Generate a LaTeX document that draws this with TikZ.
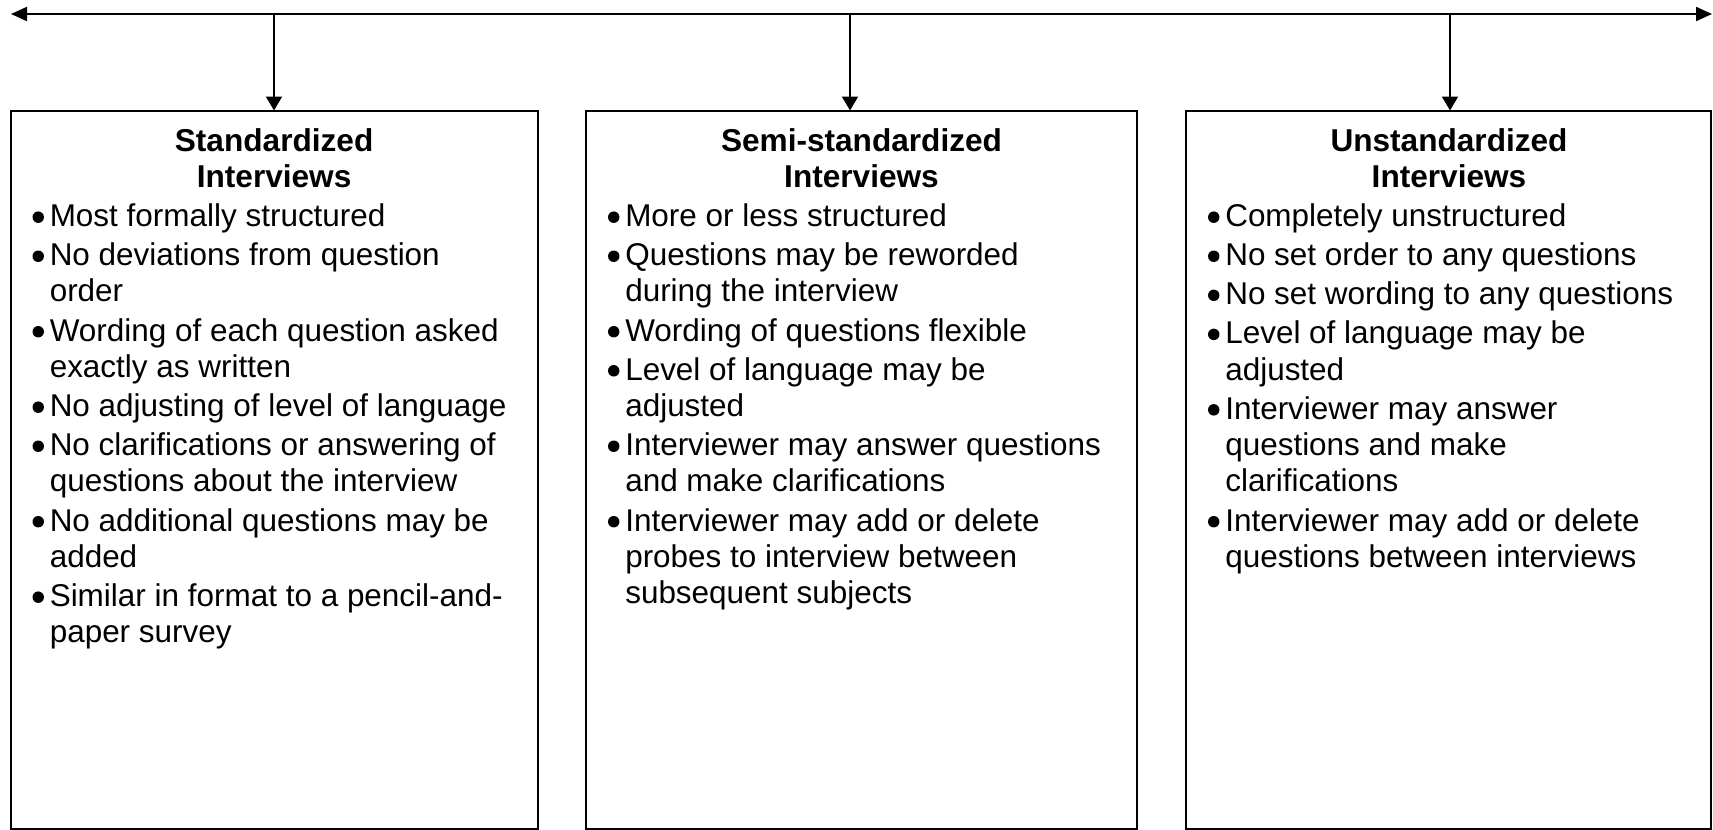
\documentclass[tikz,border=0pt]{standalone}
\usepackage{fontspec}
\setmainfont{Liberation Sans}
\usetikzlibrary{arrows.meta}
\newcommand{\bdot}{\makebox[0pt][c]{\tikz[baseline=0pt,x=1pt,y=1pt]\fill (0,7) circle (4.3);}}
\newcommand{\bl}{\makebox[29.25pt][l]{\hspace*{20.6pt}\bdot}}
\newcommand{\ind}{\hspace*{29.25pt}}
\begin{document}
\begin{tikzpicture}[x=0.75pt,y=-0.75pt,
  bx/.style={draw, line width=1.5pt, rectangle, anchor=north west, outer sep=0pt, inner sep=0pt, minimum height=539.1pt},
  hd/.style={anchor=base, inner sep=0pt, font=\bfseries\fontsize{23.7}{27}\selectfont},
  lst/.style={anchor=base west, inner sep=0pt, font=\fontsize{23.6}{27.3}\selectfont},
  arr/.style={line width=1.5pt, -{Triangle[length=10.5pt,width=12pt]}},
  harr/.style={line width=1.5pt, {Triangle[length=12pt,width=10.5pt]}-{Triangle[length=12pt,width=10.5pt]}}]
\useasboundingbox (0,0) rectangle (1713,829);

% boxes
\node[bx, minimum width=395.4pt] (b1) at (10.5,110.5) {};
\node[bx, minimum width=413.25pt] (b2) at (586,110.5) {};
\node[bx, minimum width=394.1pt] (b3) at (1186,110.5) {};

% top line and arrows
\coordinate (L) at (11,14);
\coordinate (R) at (1712,14);
\coordinate (t1) at (274,14);
\coordinate (t2) at (850,14);
\coordinate (t3) at (1450,14);
\draw[harr] (L) -- (R);
\draw[arr] (t1) -- (t1 |- b1.north);
\draw[arr] (t2) -- (t2 |- b2.north);
\draw[arr] (t3) -- (t3 |- b3.north);

% headings
\node[hd] (h1) at (274.1,151.5) {\begin{tabular}[t]{@{}c@{}}Standardized\\Interviews\end{tabular}};
\node[hd] (h2) at (861.5,151.5) {\begin{tabular}[t]{@{}c@{}}Semi-standardized\\Interviews\end{tabular}};
\node[hd] (h3) at (1449,151.5) {\begin{tabular}[t]{@{}c@{}}Unstandardized\\Interviews\end{tabular}};

% lists
\node[lst] (l1) at (10.5,226.5) {\begin{tabular}[t]{@{}l@{}}
\bl Most formally structured\\[2pt]
\bl No deviations from question\\
\ind order\\[2pt]
\bl Wording of each question asked\\
\ind exactly as written\\[2pt]
\bl No adjusting of level of language\\[2pt]
\bl No clarifications or answering of\\
\ind questions about the interview\\[2pt]
\bl No additional questions may be\\
\ind added\\[2pt]
\bl Similar in format to a pencil-and-\\
\ind paper survey
\end{tabular}};

\node[lst] (l2) at (586,226.5) {\begin{tabular}[t]{@{}l@{}}
\bl More or less structured\\[2pt]
\bl Questions may be reworded\\
\ind during the interview\\[2pt]
\bl Wording of questions flexible\\[2pt]
\bl Level of language may be\\
\ind adjusted\\[2pt]
\bl Interviewer may answer questions\\
\ind and make clarifications\\[2pt]
\bl Interviewer may add or delete\\
\ind probes to interview between\\
\ind subsequent subjects
\end{tabular}};

\node[lst] (l3) at (1186,226.5) {\begin{tabular}[t]{@{}l@{}}
\bl Completely unstructured\\[2pt]
\bl No set order to any questions\\[2pt]
\bl No set wording to any questions\\[2pt]
\bl Level of language may be\\
\ind adjusted\\[2pt]
\bl Interviewer may answer\\
\ind questions and make\\
\ind clarifications\\[2pt]
\bl Interviewer may add or delete\\
\ind questions between interviews
\end{tabular}};
\end{tikzpicture}
\end{document}
